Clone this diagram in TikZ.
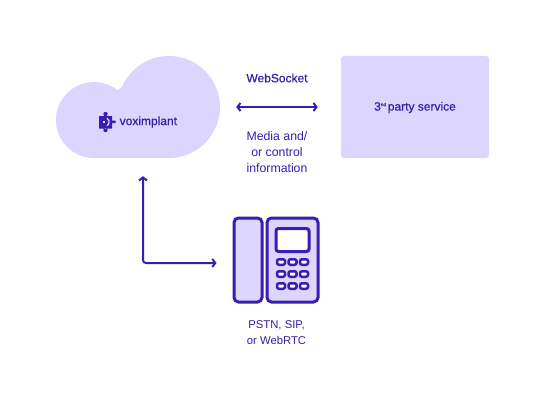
\documentclass[tikz,border=0pt]{standalone}
\usepackage{fontspec}
\setmainfont{Liberation Sans}
\newfontfamily\medfont[FakeBold=0.6]{Liberation Sans}
\usepackage{xcolor}
\usetikzlibrary{arrows.meta,positioning}
\definecolor{tinta}{HTML}{3A1CB0}
\definecolor{lila}{HTML}{DCD6FF}
\begin{document}
\begin{tikzpicture}[x=1pt,y=1pt,
  txt/.style={text=tinta,align=center,font=\fontsize{12.3}{16}\selectfont,inner sep=0pt},
  strong/.style={txt,font=\fontsize{12}{16}\selectfont\medfont},
  link/.style={draw=tinta,line width=2pt,rounded corners=3pt,{Straight Barb[length=3pt,width=8pt]}-{Straight Barb[length=3pt,width=8pt]}},
  part/.style={draw=tinta,line width=3pt,fill=lila,rounded corners=4.5pt,inner sep=0pt},
  key/.style={draw=tinta,line width=2.5pt,fill=white,rounded corners=2pt,inner sep=0pt,minimum width=8pt,minimum height=5.5pt}]
\useasboundingbox[fill=white] (0,0) rectangle (545,405);
% cloud
\fill[lila] (94,247)--(169,247) arc[start angle=-90,end angle=157,radius=51] .. controls (120.5,316.5) and (119,316) .. (117.4,314.9) arc[start angle=52,end angle=270,radius=38]--cycle;
\node[minimum width=164pt,minimum height=102pt,inner sep=0pt] (cloud) at (138,298) {};
\node[strong,anchor=west] (vox) at (119.5,283) {voximplant};
% logo
\fill[tinta] (99,276.5) rectangle (112,289) (105.5,275) circle (2.2) (105.5,291) circle (2.2) (112,282) rectangle (115.5,284.5);
\draw[lila,line width=1.2pt] (107,287) arc[start angle=60,end angle=-60,radius=4.5];
\fill[lila] (102.5,282) rectangle (104.5,284);
\node[fill=lila,rounded corners=3pt,minimum width=148pt,minimum height=102pt,inner sep=0pt] (svc) at (415,298) {};
\node[strong] (svclabel) at (415,297.5) {3\raisebox{4.5pt}{\fontsize{4.5}{5}\selectfont nd}\,party service};
\node[strong] (ws) at (277,327) {WebSocket};
\node[txt] (media) at (277,253) {Media and/\\or control\\information};
\node[part,minimum width=28pt,minimum height=84pt] (handset) at (248,145) {};
\node[part,minimum width=51pt,minimum height=84pt,right=2pt of handset] (base) {};
\node[part,fill=white,rounded corners=2.5pt,minimum width=33pt,minimum height=23pt] (screen) at (292.5,165) {};
\foreach \col/\xx in {1/281,2/292.5,3/304}
  \foreach \row/\yy in {1/143,2/131,3/119}
    \node[key] (key\row\col) at (\xx,\yy) {};
\node[txt,font=\fontsize{11.3}{16}\selectfont] (dial) at (276.5,72) {PSTN, SIP,\\or WebRTC};
\draw[link,shorten <=16pt,shorten >=23pt] (cloud) -- (svc);
\draw[link,shorten <=18pt,shorten >=16pt] ([xshift=5pt]cloud.south) |- ([yshift=-3pt]handset.west);
\end{tikzpicture}
\end{document}
